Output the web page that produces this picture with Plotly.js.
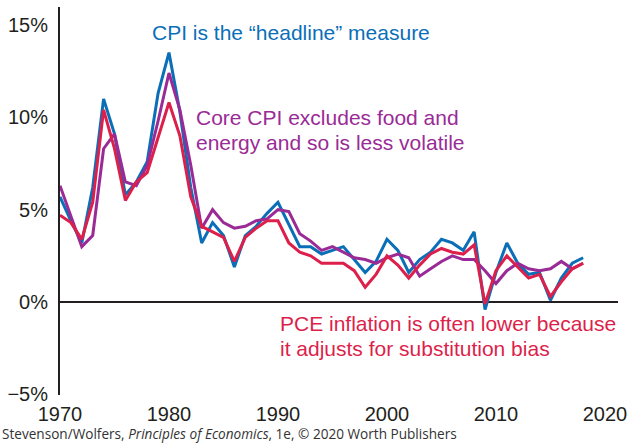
<!DOCTYPE html>
<html>
<head>
<meta charset="utf-8">
<script src="https://cdn.plot.ly/plotly-3.0.1.min.js"></script>
<style>html,body{margin:0;padding:0;background:#fff;}#chart{width:639px;height:443px;}</style>
</head>
<body>
<div id="chart"></div>
<script>
const years = [];
for (let y = 1970; y <= 2018; y++) years.push(y);

const cpi = [5.7,4.4,3.2,6.2,11.0,9.1,5.8,6.5,7.6,11.3,13.5,10.3,6.2,3.2,4.3,3.6,1.9,3.6,4.1,4.8,5.4,4.2,3.0,3.0,2.6,2.8,3.0,2.3,1.6,2.2,3.4,2.8,1.6,2.3,2.7,3.4,3.2,2.8,3.8,-0.4,1.6,3.2,2.1,1.5,1.6,0.1,1.3,2.1,2.4];
const coreCpi = [6.3,4.7,3.0,3.6,8.3,9.1,6.5,6.3,7.4,9.8,12.4,10.4,7.4,4.0,5.0,4.3,4.0,4.1,4.4,4.5,5.0,4.9,3.7,3.3,2.8,3.0,2.7,2.4,2.3,2.1,2.4,2.6,2.4,1.4,1.8,2.2,2.5,2.3,2.3,1.7,1.0,1.7,2.1,1.8,1.7,1.8,2.2,1.8,2.1];
const pce = [4.7,4.3,3.4,5.4,10.4,8.3,5.5,6.5,7.0,8.9,10.8,9.0,5.7,4.1,3.8,3.5,2.2,3.5,4.0,4.4,4.4,3.2,2.7,2.5,2.1,2.1,2.1,1.7,0.8,1.5,2.5,2.0,1.3,2.0,2.6,2.9,2.7,2.6,3.1,-0.1,1.7,2.5,1.9,1.3,1.5,0.3,1.1,1.8,2.1];

const xTicks = [1970,1980,1990,2000,2010,2020];
const yTicks = [-5,0,5,10,15];
const yTickLabels = ['\u22125%','0%','5%','10%','15%'];

const BLUE = '#0b6fb8', PURPLE = '#9a2b96', RED = '#dd1f4b', INK = '#231f20';
const FONT = 'Liberation Sans, Arial, sans-serif';

const traces = [
  {x: years, y: cpi, name: 'CPI', mode: 'lines', line: {color: BLUE, width: 3}},
  {x: years, y: coreCpi, name: 'Core CPI', mode: 'lines', line: {color: PURPLE, width: 3}},
  {x: years, y: pce, name: 'PCE', mode: 'lines', line: {color: RED, width: 3}}
];

const W = 558, H = 388, L = 60, T = 7;
const px = v => (v - L) / W;
const py = v => (T + H - v) / H;

function note(x, y, text, color, size, family) {
  return {xref: 'paper', yref: 'paper', x: px(x), y: py(y), xanchor: 'left', yanchor: 'middle', align: 'left',
          showarrow: false, text: text, font: {family: family || FONT, size: size || 21, color: color}};
}

const layout = {
  width: 639, height: 443,
  margin: {l: L, r: 639 - L - W, t: T, b: 443 - T - H},
  paper_bgcolor: '#fff', plot_bgcolor: '#fff',
  showlegend: false,
  font: {family: FONT, size: 20, color: INK},
  xaxis: {
    range: [1970, 2021.2], tickvals: xTicks, ticktext: xTicks.map(String),
    showgrid: false, zeroline: false, showline: false, ticks: '',
    ticklabelstandoff: 5,
    tickfont: {family: FONT, size: 20, color: INK}, fixedrange: true
  },
  yaxis: {
    range: [-5.03, 15.97], tickvals: yTicks, ticktext: yTickLabels,
    showgrid: false, zeroline: true, zerolinecolor: INK, zerolinewidth: 2,
    showline: true, linecolor: INK, linewidth: 2, ticks: '',
    ticklabelstandoff: 6,
    tickfont: {family: FONT, size: 20, color: INK}, fixedrange: true
  },
  annotations: [
    note(150, 33, 'CPI is the \u201cheadline\u201d measure', BLUE),
    note(194, 117, 'Core CPI excludes food and', PURPLE),
    note(194, 142, 'energy and so is less volatile', PURPLE),
    note(278, 323, 'PCE inflation is often lower because', RED),
    note(278, 348, 'it adjusts for substitution bias', RED),
    note(0, 433, 'Stevenson/Wolfers, <i>Principles of Economics</i>, 1e, \u00a9 2020 Worth Publishers', '#333', 13.6, 'Open Sans, sans-serif')
  ]
};

Plotly.newPlot('chart', traces, layout, {displayModeBar: false, staticPlot: true});
</script>
</body>
</html>
